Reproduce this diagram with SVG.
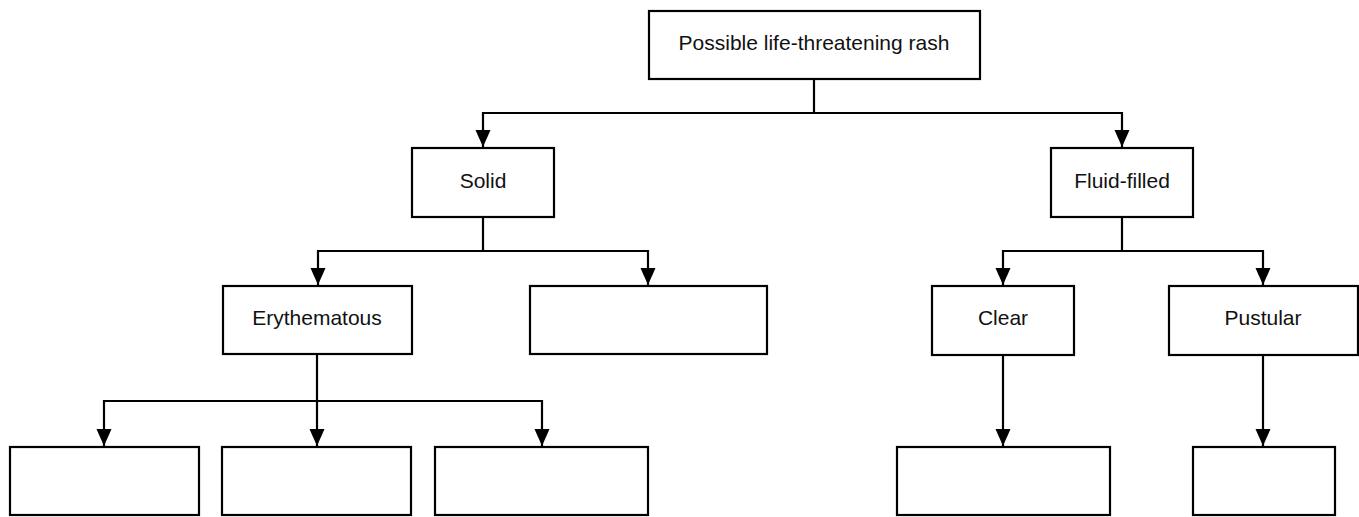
<svg xmlns="http://www.w3.org/2000/svg" width="1359" height="517" viewBox="0 0 1359 517">
  <style>
    .box { fill: #ffffff; stroke: #000000; stroke-width: 2.2; }
    .lbl { font-family: "Liberation Sans", Arial, sans-serif; font-size: 21px; fill: #111111; text-anchor: middle; }
    .wire { fill: none; stroke: #000000; stroke-width: 2.2; }
  </style>
  <defs>
    <marker id="arrow" markerUnits="userSpaceOnUse" markerWidth="18" markerHeight="18" refX="17" refY="7.5" orient="auto">
      <path d="M0,0 L17,7.5 L0,15 Z" fill="#000000"/>
    </marker>
  </defs>
  <rect width="1359" height="517" fill="#ffffff"/>

  <!-- connectors -->
  <g id="connectors" class="wire">
    <path d="M814 79 V113 H483 V147" marker-end="url(#arrow)"/>
    <path d="M814 113 H1122 V147" marker-end="url(#arrow)"/>
    <path d="M483 217 V251 H318 V285" marker-end="url(#arrow)"/>
    <path d="M483 251 H648 V285" marker-end="url(#arrow)"/>
    <path d="M1122 217 V251 H1003 V285" marker-end="url(#arrow)"/>
    <path d="M1122 251 H1263 V285" marker-end="url(#arrow)"/>
    <path d="M317 354 V446" marker-end="url(#arrow)"/>
    <path d="M317 401 H104 V446" marker-end="url(#arrow)"/>
    <path d="M317 401 H542 V446" marker-end="url(#arrow)"/>
    <path d="M1003 354 V446" marker-end="url(#arrow)"/>
    <path d="M1263 354 V446" marker-end="url(#arrow)"/>
  </g>

  <!-- nodes -->
  <g id="root">
    <rect class="box" x="649" y="11" width="331" height="68"/>
    <text class="lbl" x="814" y="50">Possible life-threatening rash</text>
  </g>
  <g id="solid">
    <rect class="box" x="412" y="148" width="142" height="69"/>
    <text class="lbl" x="483" y="188">Solid</text>
  </g>
  <g id="fluid-filled">
    <rect class="box" x="1051" y="148" width="142" height="69"/>
    <text class="lbl" x="1122" y="188">Fluid-filled</text>
  </g>
  <g id="erythematous">
    <rect class="box" x="223" y="286" width="189" height="68"/>
    <text class="lbl" x="317" y="325">Erythematous</text>
  </g>
  <g id="solid-other">
    <rect class="box" x="530" y="286" width="237" height="68"/>
  </g>
  <g id="clear">
    <rect class="box" x="932" y="286" width="142" height="69"/>
    <text class="lbl" x="1003" y="325">Clear</text>
  </g>
  <g id="pustular">
    <rect class="box" x="1169" y="286" width="189" height="69"/>
    <text class="lbl" x="1263" y="325">Pustular</text>
  </g>
  <g id="erythematous-a">
    <rect class="box" x="10" y="447" width="189" height="68"/>
  </g>
  <g id="erythematous-b">
    <rect class="box" x="222" y="447" width="189" height="68"/>
  </g>
  <g id="erythematous-c">
    <rect class="box" x="435" y="447" width="213" height="68"/>
  </g>
  <g id="clear-a">
    <rect class="box" x="897" y="447" width="213" height="68"/>
  </g>
  <g id="pustular-a">
    <rect class="box" x="1193" y="447" width="142" height="68"/>
  </g>
</svg>
